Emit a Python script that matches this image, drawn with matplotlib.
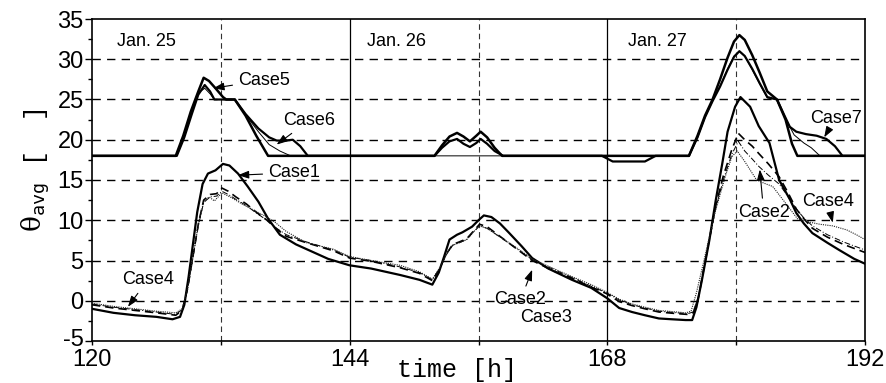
import matplotlib
matplotlib.use("Agg")
import matplotlib.pyplot as plt
from matplotlib.ticker import MultipleLocator, FixedLocator, FixedFormatter
from matplotlib.transforms import ScaledTranslation

# ---------------- data ----------------
# upper group (thick lines around 18)
t_case5 = [120, 127.8, 128.5, 129.2, 129.9, 130.4, 130.9, 131.5, 132.2, 132.5, 133.3, 134.3, 135.3, 136.4,
           151.9, 152.6, 153.3, 154.0, 154.6, 155.2, 155.8, 156.2, 156.8, 157.5, 158.2,
           175.6, 176.4, 177.1, 177.8, 178.5, 179.2, 179.8, 180.3, 180.8, 181.5, 182.2, 182.9, 183.8,
           184.6, 185.2, 185.7, 192]
v_case5 = [18, 18, 20.5, 23.5, 26.0, 27.7, 27.3, 26.4, 25.3, 25.0, 25.0, 23.0, 20.5, 18.0,
           18.0, 19.3, 20.4, 20.85, 20.4, 19.8, 20.5, 21.0, 20.3, 19.0, 18.0,
           18.0, 20.5, 23.0, 25.0, 27.5, 30.2, 32.2, 33.0, 32.4, 30.5, 28.3, 26.0, 25.0,
           22.5, 19.5, 18.0, 18.0]

t_case6 = [120, 127.9, 128.6, 129.3, 129.9, 130.5, 131.0, 131.4, 133.3, 134.3, 135.5, 136.5, 137.2,
           138.0, 138.7, 139.4, 140.1,
           151.9, 152.6, 153.3, 154.0, 154.6, 155.2, 155.8, 156.2, 156.8, 157.5, 158.3,
           167.5, 168.5, 171.5, 172.5,
           175.6, 176.4, 177.1, 177.8, 178.5, 179.2, 179.8, 180.3, 180.8, 181.5, 182.2, 182.9, 183.8,
           184.5, 185.0, 185.6, 186.5, 187.5, 188.4, 189.2, 189.9, 192]
v_case6 = [18, 18, 20.3, 23.2, 25.6, 26.8, 26.0, 25.0, 25.0, 23.2, 21.4, 20.3, 19.9,
           19.9, 20.0, 19.2, 18.0,
           18.0, 19.0, 19.8, 20.1, 19.5, 19.1, 19.6, 20.1, 19.5, 18.6, 18.0,
           18.0, 17.3, 17.3, 18.0,
           18.0, 20.3, 22.8, 24.8, 26.6, 28.7, 30.3, 31.0, 30.4, 28.8, 27.0, 25.3, 25.0,
           23.0, 21.6, 21.0, 20.7, 20.5, 20.1, 19.2, 18.0, 18.0]

t_case7 = [120, 127.9, 128.6, 129.3, 129.9, 130.5, 131.0, 131.4, 133.3, 134.3, 135.5, 136.5, 137.5, 138.5,
           175.6, 176.4, 177.1, 177.8, 178.5, 179.2, 179.8, 180.3, 180.8, 181.5, 182.2, 182.9, 183.8,
           184.6, 185.4, 186.3, 187.0, 187.8, 192]
v_case7 = [18, 18, 20.4, 23.4, 25.8, 26.4, 25.7, 25.0, 25.0, 23.1, 21.0, 19.4, 18.6, 18.0,
           18.0, 20.4, 22.9, 24.9, 26.7, 28.8, 30.4, 31.0, 30.4, 28.7, 26.9, 25.2, 25.0,
           22.6, 20.6, 19.6, 19.0, 18.0, 18.0]

# lower group
t_case1 = [120, 122, 124, 126, 127.5, 128.2, 128.6, 129.0, 129.4, 129.8, 130.3, 130.8, 131.5, 132.2, 132.8,
           133.6, 134.5, 135.5, 136.4, 137.5, 139, 140.5, 142, 144, 146, 148.7, 150.5, 151.7, 152.3,
           152.8, 153.3, 154.0, 154.5, 155.4, 156.0, 156.5, 157.2, 158.0, 158.8, 160, 161, 162.5, 164.7,
           166.5, 168, 169.1, 170.3, 171.5, 172.8, 174, 175.3, 175.9, 176.3, 176.8, 177.5, 178.1, 178.7,
           179.2, 179.9, 180.4, 181.3, 182.1, 183.1, 184, 185, 185.6, 186.3, 187.1, 188.5, 189.6, 191, 192]
v_case1 = [-1.0, -1.5, -1.8, -2.0, -2.3, -2.0, -0.5, 3, 7, 11, 14.5, 15.8, 16.2, 17.0, 16.8,
           15.8, 14.2, 12.3, 10.2, 8.2, 7.0, 6.1, 5.2, 4.4, 4.0, 3.2, 2.6, 2.0, 3.5,
           5.5, 7.6, 8.2, 8.5, 9.2, 10.0, 10.6, 10.4, 9.6, 8.5, 6.8, 5.3, 4.0, 2.6,
           1.6, 0.3, -0.9, -1.4, -1.8, -2.2, -2.3, -2.4, -2.4, -0.8, 2.5, 7.5, 12.5, 17.0,
           21.0, 24.1, 25.3, 24.1, 21.7, 19.6, 15.0, 12.6, 10.9, 9.6, 8.4, 7.2, 6.3, 5.2, 4.6]

t_case2 = [120, 122, 124, 126, 127.8, 128.4, 128.9, 129.4, 129.9, 130.4, 131.0, 131.6, 132.1, 132.7, 133.4,
           134.4, 135.3, 136.3, 137.2, 138.1, 140, 142.5, 144, 146, 148.7, 150.5, 151.7, 152.3, 153.0,
           153.6, 154.2, 154.9, 155.5, 156.1, 156.8, 157.8, 159.2, 161, 163, 164.7, 166.5, 167.9, 169.1,
           170.3, 171.5, 172.8, 174.5, 175.5, 176.0, 176.5, 177.2, 178.1, 178.8, 179.6, 180.2, 180.8,
           181.5, 182.1, 183, 184, 184.8, 185.6, 186.3, 187.1, 188.5, 190, 191, 192]
v_case2 = [-0.5, -0.9, -1.2, -1.5, -1.8, -1.2, 1.5, 5.5, 9.5, 12.5, 13.2, 13.3, 14.0, 13.6, 12.9,
           12.0, 11.0, 10.0, 8.9, 8.0, 7.2, 6.2, 5.3, 4.9, 4.1, 3.4, 2.5, 3.8, 5.8,
           7.0, 7.3, 7.7, 8.6, 9.5, 9.2, 8.2, 6.8, 5.0, 3.7, 2.8, 1.7, 0.9, -0.1,
           -0.6, -1.0, -1.4, -1.6, -1.7, -1.5, 0.5, 5.5, 11.8, 15.5, 18.8, 20.8, 20.0,
           19.2, 18.3, 17.0, 15.4, 13.5, 11.4, 10.2, 9.0, 7.9, 7.0, 6.5, 6.0]

t_case3 = t_case2
v_case3 = [-0.4, -0.8, -1.1, -1.4, -1.7, -1.1, 1.4, 5.3, 9.3, 12.2, 12.9, 13.0, 13.6, 13.2, 12.6,
           11.8, 10.9, 10.0, 9.0, 8.2, 7.3, 6.3, 5.4, 5.0, 4.2, 3.5, 2.6, 3.8, 5.7,
           6.9, 7.2, 7.6, 8.5, 9.3, 9.0, 8.1, 6.8, 5.1, 3.9, 2.9, 1.8, 1.0, 0.1,
           -0.5, -0.9, -1.3, -1.5, -1.6, -1.4, 0.6, 5.5, 11.5, 15.0, 18.2, 19.8, 18.6,
           17.6, 16.7, 15.6, 14.5, 13.0, 11.4, 10.3, 9.3, 8.2, 7.3, 6.8, 6.3]

t_case4 = [120, 122, 124, 126, 127.8, 128.4, 128.9, 129.4, 129.9, 130.4, 130.9, 131.4, 132.1, 133, 134,
           135, 136, 137, 138.1, 140, 142.5, 144, 146, 148.7, 150.5, 151.7, 152.3, 153, 153.6, 154.2,
           154.9, 155.5, 156.1, 156.8, 157.8, 159.2, 161, 163, 164.7, 166.5, 167.9, 169.1, 170.3, 171.5,
           172.8, 174.5, 175.3, 175.8, 176.3, 177, 177.6, 178.1, 179.0, 179.6, 180.1, 180.8, 181.9,
           182.6, 183.4, 184.5, 185.7, 186.7, 187.8, 189, 190.3, 191.2, 192]
v_case4 = [-0.3, -0.7, -1.0, -1.3, -1.5, -1.0, 1.5, 5.5, 9.5, 12.3, 12.9, 12.4, 13.4, 12.8, 12.0,
           11.3, 10.6, 9.8, 8.6, 7.2, 6.4, 5.5, 5.0, 4.4, 3.6, 2.7, 3.9, 5.8, 6.9, 7.2,
           7.6, 8.5, 9.3, 9.0, 8.1, 6.9, 5.2, 4.0, 3.0, 2.0, 1.1, 0.2, -0.4, -0.8,
           -1.2, -1.4, -1.5, -1.3, 1.0, 5.0, 8.5, 11.3, 15.5, 17.9, 18.6, 17.3, 15.0,
           14.6, 14.2, 12.3, 10.2, 9.8, 9.5, 9.3, 8.8, 8.2, 7.6]

x_ticks = [120, 132, 144, 156, 168, 180, 192]
x_tick_labels = ["120", "", "144", "", "168", "", "192"]
y_ticks = [-5, 0, 5, 10, 15, 20, 25, 30, 35]
y_tick_labels = ["-5", "0", "5", "10", "15", "20", "25", "30", "35"]
day_labels = ["Jan. 25", "Jan. 26", "Jan. 27"]
day_label_x = [122.3, 145.6, 169.9]

# ---------------- figure ----------------
fig = plt.figure(figsize=(8.86, 3.83), dpi=100)
ax = fig.add_axes([92 / 886, 1 - 341 / 383, (865 - 92) / 886, (341 - 19) / 383])

sans = ["Liberation Sans", "DejaVu Sans"]
mono = ["Liberation Mono", "DejaVu Sans Mono"]

# grid
for yv in [0, 5, 10, 15, 20, 25, 30]:
    ax.axhline(yv, color="black", lw=1.0, dashes=(6, 4.5), zorder=1)
for xv in [132, 156, 180]:
    ax.axvline(xv, color="#333333", lw=0.8, dashes=(5, 3.5), zorder=1)
for xv in [144, 168]:
    ax.axvline(xv, color="black", lw=0.9, zorder=1)

# curves
ax.plot(t_case5, v_case5, color="black", lw=1.8, zorder=3)
ax.plot(t_case6, v_case6, color="black", lw=1.6, zorder=3)
ax.plot(t_case7, v_case7, color="black", lw=0.7, zorder=3)

ax.plot(t_case1, v_case1, color="black", lw=1.6, zorder=3)
ax.plot(t_case2, v_case2, color="black", lw=1.2, dashes=(5, 3), zorder=3)
ax.plot(t_case3, v_case3, color="black", lw=0.7, dashes=(6, 2, 1, 2), zorder=3)
ax.plot(t_case4, v_case4, color="#222222", lw=0.8, dashes=(1, 1), zorder=3)

ax.set_xlim(120, 192)
ax.set_ylim(-5, 35)
ax.xaxis.set_major_locator(FixedLocator(x_ticks))
ax.xaxis.set_major_formatter(FixedFormatter(x_tick_labels))
ax.yaxis.set_major_locator(FixedLocator(y_ticks))
ax.yaxis.set_major_formatter(FixedFormatter(y_tick_labels))
ax.yaxis.set_minor_locator(MultipleLocator(2.5))
ax.tick_params(axis="x", which="major", direction="out", length=3, width=1, pad=3,
               labelsize=17)
ax.tick_params(axis="y", which="major", direction="out", length=5, width=1, pad=1,
               labelsize=17)
ax.tick_params(axis="y", which="minor", direction="out", length=3, width=1)
for lab in ax.get_xticklabels() + ax.get_yticklabels():
    lab.set_family(sans)
# nudge the "-5" label upward like in the reference
ylabs = ax.get_yticklabels()
ylabs[0].set_transform(ylabs[0].get_transform() + ScaledTranslation(0, 4 / 100, fig.dpi_scale_trans))
for sp in ax.spines.values():
    sp.set_linewidth(1.2)

# day labels
for lx, txt in zip(day_label_x, day_labels):
    ax.text(lx, 32.2, txt, ha="left", va="center", fontsize=13, family=sans)

# annotations
arrow = dict(arrowstyle="-|>,head_length=0.5,head_width=0.18", color="black", lw=0.8,
             shrinkA=2, shrinkB=0)
ann = [
    ("Case5", (131.3, 26.4), (133.6, 27.4), "left"),
    ("Case6", (137.2, 19.4), (137.8, 22.4), "left"),
    ("Case1", (133.6, 15.6), (136.4, 15.9), "left"),
    ("Case4", (123.35, -0.75), (125.2, 2.6), "center"),
    ("Case2", (161.0, 3.85), (157.5, 0.1), "left"),
    ("Case2", (182.2, 16.3), (180.15, 11.0), "left"),
    ("Case4", (189.0, 9.7), (186.1, 12.3), "left"),
    ("Case7", (188.2, 20.3), (186.85, 22.7), "left"),
]
for txt, xy, xyt, ha in ann:
    ax.annotate(txt, xy=xy, xytext=xyt, ha=ha, va="center", fontsize=13, family=sans,
                arrowprops=arrow, zorder=5)
ax.text(159.85, -2.1, "Case3", ha="left", va="center", fontsize=13, family=sans)

# axis labels
fig.text(457 / 886, 1 - 370 / 383, "time [h]", ha="center", va="center", fontsize=18, family=mono)
fig.text(36 / 886, 1 - 207 / 383, r"θ$_{\mathtt{avg}}$", ha="center", va="center",
         rotation=90, fontsize=19, family=["DejaVu Serif", "DejaVu Sans"])
fig.text(36 / 886, 1 - 135 / 383, "[  ]", ha="center", va="center",
         rotation=90, fontsize=18, family=mono)

fig.savefig("out.png", dpi=100)
